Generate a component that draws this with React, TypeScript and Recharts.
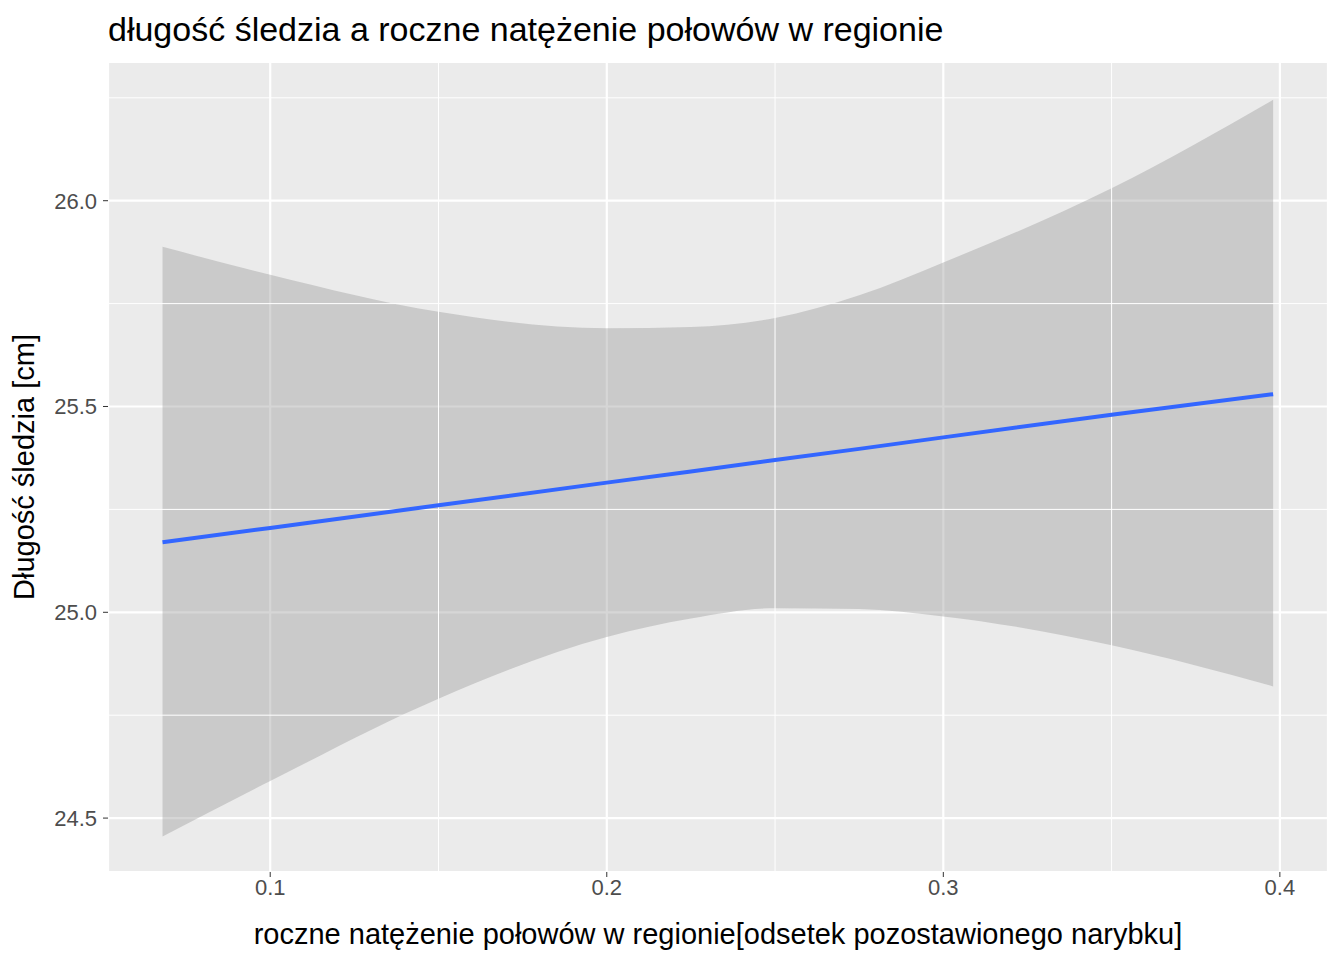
import { ComposedChart, Area, Line, XAxis, YAxis, CartesianGrid, ReferenceLine } from "recharts";

const xs = [0.068, 0.1, 0.15, 0.2, 0.225, 0.25, 0.275, 0.3, 0.35, 0.398];
const fit = [25.17, 25.205, 25.26, 25.315, 25.342, 25.37, 25.397, 25.425, 25.48, 25.53];
const lower = [24.455, 24.59, 24.79, 24.94, 24.985, 25.01, 25.008, 24.99, 24.92, 24.82];
const upper = [25.888, 25.82, 25.73, 25.69, 25.693, 25.715, 25.77, 25.85, 26.03, 26.245];
const xTicks = [0.1, 0.2, 0.3, 0.4];
const yTicks = [24.5, 25.0, 25.5, 26.0];
const xMinor = [0.15, 0.25, 0.35];
const yMinor = [24.75, 25.25, 25.75, 26.25];

const data = xs.map((x, i) => ({ x, fit: fit[i], band: [lower[i], upper[i]] }));
const font = "'Liberation Sans', Arial, sans-serif";
const tick = { fill: "#4D4D4D", fontSize: 22, fontFamily: font };

export default function App() {
  return (
    <div style={{ position: "absolute", left: 0, top: 0, width: 1344, height: 960, background: "#fff", fontFamily: font }}>
      <div style={{ position: "absolute", left: 108, top: 10, fontSize: 34, color: "#000" }}>
        długość śledzia a roczne natężenie połowów w regionie
      </div>
      <ComposedChart width={1344} height={960} data={data} margin={{ top: 62, right: 16, bottom: 0, left: 8 }}>
        <CartesianGrid fill="#EBEBEB" stroke="#fff" strokeWidth={2.2} />
        {xMinor.map((v) => <ReferenceLine key={v} x={v} stroke="#fff" strokeWidth={1} />)}
        {yMinor.map((v) => <ReferenceLine key={v} y={v} stroke="#fff" strokeWidth={1} />)}
        <XAxis
          dataKey="x" type="number" domain={[0.0518, 0.4143]} ticks={xTicks}
          tickFormatter={(v: number) => String(v)} tick={tick} height={88}
          axisLine={false} tickLine={{ stroke: "#333" }} tickSize={5}
          label={{ value: "roczne natężenie połowów w regionie[odsetek pozostawionego narybku]", position: "insideBottom", offset: 16, fill: "#000", fontSize: 29, fontFamily: font }}
        />
        <YAxis
          type="number" domain={[24.369, 26.337]} ticks={yTicks}
          tickFormatter={(v: number) => v.toFixed(1)} tick={tick} width={100}
          axisLine={false} tickLine={{ stroke: "#333" }} tickSize={5} tickMargin={6}
          label={{ value: "Długość śledzia [cm]", angle: -90, position: "insideLeft", offset: 16, fill: "#000", fontSize: 29, fontFamily: font, style: { textAnchor: "middle" } }}
        />
        <Area type="monotone" dataKey="band" stroke="none" fill="#999999" fillOpacity={0.4} isAnimationActive={false} />
        <Line type="linear" dataKey="fit" stroke="#3366FF" strokeWidth={4} dot={false} isAnimationActive={false} />
      </ComposedChart>
    </div>
  );
}
